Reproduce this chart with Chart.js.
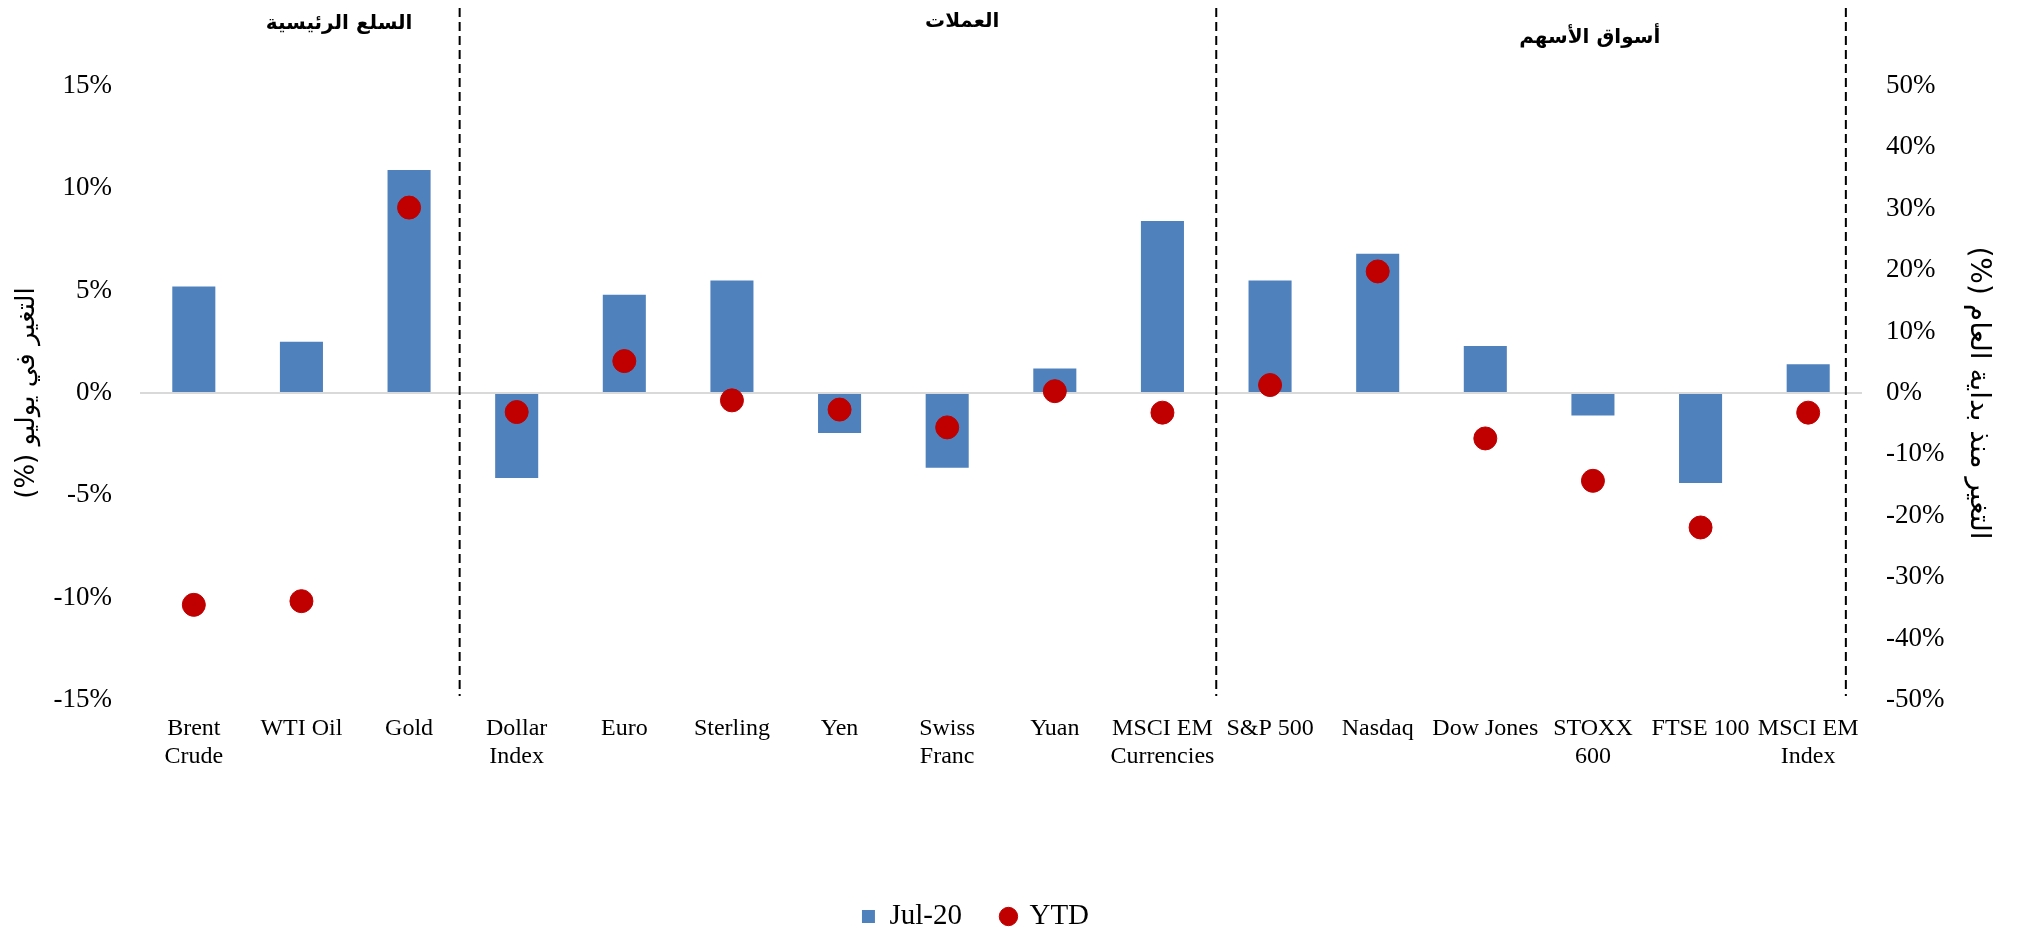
<!DOCTYPE html>
<html lang="ar">
<head>
  <meta charset="UTF-8">
  <title>Markets July 2020</title>
  <script src="https://cdn.jsdelivr.net/npm/chart.js"></script>
  <style>
    html, body { margin: 0; padding: 0; background: #fff; }
    #wrap { width: 2017px; height: 931px; }
  </style>
</head>
<body>
  <div id="wrap">
    <canvas id="myChart"></canvas>
  </div>

  <script>
    const labels = [
      ['Brent', 'Crude'], 'WTI Oil', 'Gold', ['Dollar', 'Index'], 'Euro', 'Sterling', 'Yen',
      ['Swiss', 'Franc'], 'Yuan', ['MSCI EM', 'Currencies'], 'S&P 500', 'Nasdaq', 'Dow Jones',
      ['STOXX', '600'], 'FTSE 100', ['MSCI EM', 'Index']
    ];
    // monthly change, left axis (%)
    const julyChange = [5.2, 2.5, 10.9, -4.15, 4.8, 5.5, -1.95, -3.65, 1.2, 8.4, 5.5, 6.8, 2.3, -1.1, -4.4, 1.4];
    // year to date change, right axis (%)
    const ytdChange = [-34.5, -33.9, 30.2, -3.1, 5.2, -1.2, -2.7, -5.6, 0.3, -3.2, 1.3, 19.8, -7.4, -14.3, -21.9, -3.2];

    const sectionNames = ['السلع الرئيسية', 'العملات', 'أسواق الأسهم'];
    const sectionCenters = [1.35, 7.14, 12.97];   // in category units
    const dividerAt = [2.47, 9.5, 15.35];

    const serif = "'Liberation Serif', 'Times New Roman', 'DejaVu Serif', serif";
    const RLM = '\u200F';

    const sections = {
      id: 'sections',
      afterLayout(chart) {
        // legend sits a little left of the page centre
        chart.legend.left -= 33;
        chart.legend.right -= 33;
      },
      afterDraw(chart) {
        const ctx = chart.ctx;
        const x = chart.scales.x;
        const area = chart.chartArea;
        ctx.save();
        ctx.strokeStyle = '#000';
        ctx.lineWidth = 2;
        ctx.setLineDash([9, 5]);
        dividerAt.forEach(function (d) {
          const px = x.getPixelForValue(d);
          ctx.beginPath();
          ctx.moveTo(px, 8);
          ctx.lineTo(px, area.bottom - 4);
          ctx.stroke();
        });
        ctx.setLineDash([]);
        ctx.fillStyle = '#000';
        ctx.font = "bold 20px 'DejaVu Sans', sans-serif";
        ctx.textAlign = 'center';
        ctx.textBaseline = 'middle';
        const ys = [24, 22, 38];
        sectionNames.forEach(function (name, i) {
          ctx.fillText(name, x.getPixelForValue(sectionCenters[i]), ys[i]);
        });
        ctx.restore();
      }
    };

    Chart.defaults.font.family = serif;
    Chart.defaults.color = '#000';

    const ctx = document.getElementById('myChart').getContext('2d');
    const myChart = new Chart(ctx, {
      data: {
        labels: labels,
        datasets: [{
          type: 'bar',
          label: 'Jul-20',
          data: julyChange,
          backgroundColor: '#4F81BD',
          barPercentage: 0.4,
          categoryPercentage: 1.0,
          yAxisID: 'y',
          order: 2,
          pointStyle: 'rect'
        }, {
          type: 'line',
          label: 'YTD',
          data: ytdChange,
          showLine: false,
          pointRadius: 11.5,
          pointHoverRadius: 11.5,
          pointBackgroundColor: '#C00000',
          pointBorderColor: '#C00000',
          backgroundColor: '#C00000',
          borderColor: '#C00000',
          pointStyle: 'circle',
          yAxisID: 'y2',
          order: 1
        }]
      },
      options: {
        responsive: true,
        maintainAspectRatio: false,
        animation: false,
        layout: { padding: { top: 86, left: 0, right: 0, bottom: -10 } },
        plugins: {
          tooltip: { enabled: false },
          legend: {
            position: 'bottom',
            labels: {
              usePointStyle: true,
              boxHeight: 13,
              boxWidth: 13,
              padding: 40,
              font: { size: 29 },
              sort: (a, b) => a.datasetIndex - b.datasetIndex
            }
          }
        },
        scales: {
          x: {
            grid: { display: false },
            border: { display: false },
            ticks: {
              autoSkip: false,
              maxRotation: 0,
              minRotation: 0,
              padding: 6,
              font: { size: 24 }
            },
            afterFit(scale) { scale.height = 162; }
          },
          y: {
            position: 'left',
            min: -15,
            max: 15,
            border: { display: false },
            grid: {
              drawTicks: false,
              lineWidth: 2,
              color: (c) => c.tick && c.tick.value === 0 ? '#D9D9D9' : 'rgba(0,0,0,0)'
            },
            ticks: {
              stepSize: 5,
              padding: 28,
              font: { size: 27 },
              callback: (v) => v + '%'
            },
            title: {
              display: true,
              text: RLM + 'التغير في يوليو (%)' + RLM,
              font: { size: 26, family: "'DejaVu Sans', sans-serif" },
              padding: { top: 12, bottom: 0 }
            },
            afterFit(scale) { scale.width = 140; }
          },
          y2: {
            position: 'right',
            min: -50,
            max: 50,
            border: { display: false },
            grid: { display: false, drawTicks: false },
            ticks: {
              stepSize: 10,
              padding: 24,
              font: { size: 27 },
              callback: (v) => v + '%'
            },
            title: {
              display: true,
              text: RLM + 'التغير منذ بداية العام (%)' + RLM,
              font: { size: 28, family: "'DejaVu Sans', sans-serif" },
              padding: { top: 22, bottom: 0 }
            },
            afterFit(scale) { scale.width = 155; }
          }
        }
      },
      plugins: [sections]
    });
  </script>
</body>
</html>
